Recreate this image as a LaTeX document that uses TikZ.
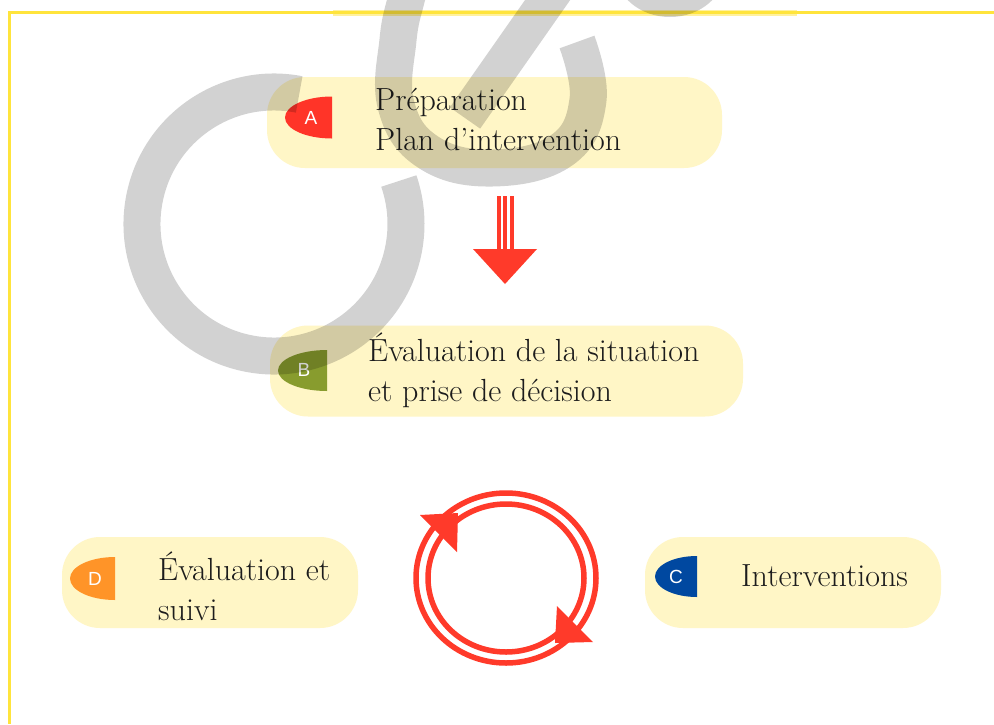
\documentclass[tikz,border=0pt]{standalone}
\usepackage{fontspec}
\usepackage{tikz}
\usetikzlibrary{arrows,shapes,positioning,calc}
\newfontfamily\tabfont{Liberation Sans}
\definecolor{boxyellow}{RGB}{255,246,198}
\definecolor{frameyellow}{RGB}{255,228,60}
\definecolor{arrowred}{RGB}{255,58,42}
\definecolor{tabred}{RGB}{255,52,40}
\definecolor{tabolive}{RGB}{136,156,46}
\definecolor{tabblue}{RGB}{0,72,160}
\definecolor{taborange}{RGB}{255,148,40}
\definecolor{textgrey}{RGB}{28,28,28}

\begin{document}
\begin{tikzpicture}[x=1pt,y=1pt,
	phase/.style={fill=boxyellow, rounded corners=38pt, minimum height=91pt},
	phasetext/.style={anchor=base west, align=left, text=textgrey, font=\fontsize{32}{40}\selectfont},
	tabletter/.style={text=white, font=\tabfont\fontsize{19}{19}\selectfont},
	wm/.style={draw=black, draw opacity=0.175, line width=37pt}]
			\tikzstyle{every node}+=[inner sep=0pt]
			\useasboundingbox (0,0) rectangle (994,-724);
			\fill [white] (0,0) rectangle (994,-724);
			% frame
			\fill [frameyellow!50] (333,-9.5) rectangle (797,-16);
			\draw [frameyellow, line width=3pt] (994,-12.5) -- (9.5,-12.5) -- (9.5,-724);
			% boxes
			\node [phase, minimum width=455pt] (prep) at (494.5,-122.5) {};
			\node [phase, minimum width=473pt] (eval) at (506.5,-371) {};
			\node [phase, minimum width=296pt] (suivi) at (210,-582.5) {};
			\node [phase, minimum width=296pt] (interv) at (793,-582.5) {};
			% tabs
			\fill [tabred] (332,-96.5) arc (90:270:47pt and 21pt) -- cycle;
			\node [tabletter] (tabA) at (311,-117.5) {A};
			\fill [tabolive] (327,-350) arc (90:270:49pt and 20.5pt) -- cycle;
			\node [tabletter] (tabB) at (304,-370) {B};
			\fill [taborange] (115,-557) arc (90:270:45pt and 21.5pt) -- cycle;
			\node [tabletter] (tabD) at (95,-579) {D};
			\fill [tabblue] (697,-556) arc (90:270:42pt and 20.5pt) -- cycle;
			\node [tabletter] (tabC) at (676,-577) {C};
			% texts (base = last line)
			\node [phasetext] (preptext) at (375,-150) {Préparation\\Plan d'intervention};
			\node [phasetext] (evaltext) at (368,-401.5) {Évaluation de la situation\\et prise de décision};
			\node [phasetext] (suivitext) at (158,-620) {Évaluation et\\suivi};
			\node [phasetext] (intervtext) at (741,-586) {Interventions};
			% arrow A -> B
			\coordinate (flow) at (505,-250);
			\foreach \dx in {-6.5,0,6.5}
				\draw [arrowred, line width=4pt] ($(flow)+(\dx,54)$) -- ($(flow)+(\dx,0)$);
			\fill [arrowred] ($(flow)+(-32,1)$) -- ($(flow)+(32,1)$) -- ($(flow)+(0,-34)$) -- cycle;
			% cycle
			\coordinate (cyc) at (506,-578);
			\draw [arrowred, line width=5.5pt] (cyc) ellipse (90pt and 85pt);
			\draw [arrowred, line width=5.5pt] (cyc) ellipse (78pt and 74pt);
			\fill [arrowred] ($(cyc)+(-86,63)$) -- ($(cyc)+(-48,65)$) -- ($(cyc)+(-49,26)$) -- cycle;
			\fill [arrowred] ($(cyc)+(87,-64)$) -- ($(cyc)+(49,-65)$) -- ($(cyc)+(51,-28)$) -- cycle;
			% watermark
			\draw [wm] (274,-224) ++(79:132pt) arc (79:379:132pt);
			\draw [wm] plot [smooth, tension=0.7] coordinates {(577,-42) (588,-100) (562,-150) (492,-168) (428,-152) (396,-105) (398,-40) (406,0) (414,25)};
			\draw [wm] (556,12) -- (465,-118);
			\fill [black, fill opacity=0.175] (670,30) ellipse (55pt and 47pt);
\end{tikzpicture}
\end{document}
